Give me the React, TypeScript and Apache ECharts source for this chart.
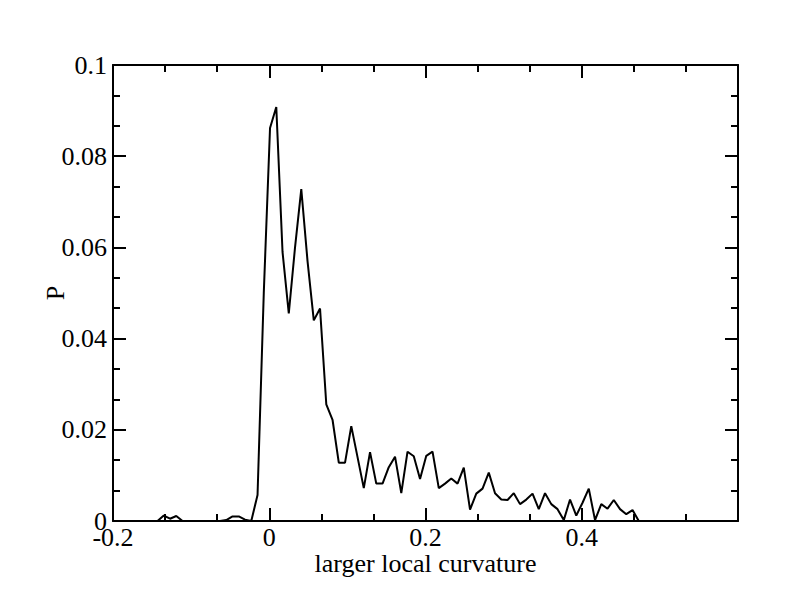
import React, { useEffect, useRef } from "react";
import * as echarts from "echarts";

const xValues = [
  -0.143, -0.135, -0.127, -0.119, -0.111, -0.103, -0.095, -0.087, -0.079, -0.071, -0.063,
  -0.055, -0.047, -0.039, -0.031, -0.023, -0.015, -0.007, 0.001, 0.009, 0.017, 0.025,
  0.033, 0.041, 0.049, 0.057, 0.065, 0.073, 0.081, 0.089, 0.097, 0.105, 0.113, 0.121,
  0.129, 0.137, 0.145, 0.153, 0.161, 0.169, 0.177, 0.185, 0.193, 0.201, 0.209, 0.217,
  0.225, 0.233, 0.241, 0.249, 0.257, 0.265, 0.273, 0.281, 0.289, 0.297, 0.305, 0.313,
  0.321, 0.329, 0.337, 0.345, 0.353, 0.361, 0.369, 0.377, 0.385, 0.393, 0.401, 0.409,
  0.417, 0.425, 0.433, 0.441, 0.449, 0.457, 0.465, 0.473,
];
const pValues = [
  0, 0.0012, 0.0005, 0.0011, 0, 0, 0, 0, 0, 0, 0,
  0.0002, 0.001, 0.001, 0.0003, 0, 0.0057, 0.05, 0.0862, 0.0908, 0.059, 0.0455,
  0.06, 0.0728, 0.057, 0.044, 0.0466, 0.0256, 0.0222, 0.0128, 0.0128, 0.0208, 0.014, 0.0072,
  0.0151, 0.0082, 0.0082, 0.0118, 0.0141, 0.0061, 0.0152, 0.0142, 0.0092, 0.0143, 0.0152, 0.0072,
  0.0082, 0.0093, 0.0082, 0.0117, 0.0025, 0.006, 0.0071, 0.0106, 0.0061, 0.0047, 0.0046, 0.0061,
  0.0037, 0.0047, 0.006, 0.0026, 0.0061, 0.0037, 0.0026, 0.0002, 0.0047, 0.0012, 0.004, 0.0071,
  0.0002, 0.0037, 0.0027, 0.0046, 0.0026, 0.0015, 0.0024, 0,
];

const xMin = -0.2;
const xMax = 0.6;
const xStep = 0.2;
const yMin = 0;
const yMax = 0.1;
const yStep = 0.02;
const xTitle = "larger local curvature";
const yTitle = "P";

const FONT = "'Liberation Serif', 'DejaVu Serif', serif";

export default function App() {
  const ref = useRef<HTMLDivElement>(null);
  useEffect(() => {
    if (!ref.current) return;
    const chart = echarts.init(ref.current, undefined, { renderer: "svg" });
    const lineStyle = { color: "#000", width: 2 };
    const tickIn = { show: true, inside: true, length: 13, lineStyle: { color: "#000", width: 2 } };
    const minorIn = { show: true, splitNumber: 3, length: 7, lineStyle: { color: "#000", width: 2 } };
    const fmt = (v: number) => {
      const r = Math.round(v * 1000) / 1000;
      return String(r);
    };
    chart.setOption({
      animation: false,
      backgroundColor: "#fff",
      grid: { left: 113, right: 54, top: 65, bottom: 91, containLabel: false },
      xAxis: [
        {
          type: "value",
          min: xMin,
          max: xMax,
          interval: xStep,
          position: "bottom",
          name: xTitle,
          nameLocation: "middle",
          nameGap: 29,
          nameMoveOverlap: false,
          nameTextStyle: { fontFamily: FONT, fontSize: 26, color: "#000" },
          axisLine: { show: true, onZero: false, lineStyle },
          axisTick: tickIn,
          minorTick: minorIn,
          splitLine: { show: false },
          axisLabel: {
            fontFamily: FONT,
            fontSize: 26,
            color: "#000",
            margin: 3,
            formatter: (v: number) => (Math.abs(v - xMax) < 1e-9 ? "" : fmt(v)),
            showMaxLabel: false,
          },
        },
        {
          type: "value",
          min: xMin,
          max: xMax,
          interval: xStep,
          position: "top",
          axisLine: { show: true, onZero: false, lineStyle },
          axisTick: tickIn,
          minorTick: minorIn,
          splitLine: { show: false },
          axisLabel: { show: false },
        },
      ],
      yAxis: [
        {
          type: "value",
          min: yMin,
          max: yMax,
          interval: yStep,
          position: "left",
          name: yTitle,
          nameLocation: "middle",
          nameGap: 45,
          nameMoveOverlap: false,
          nameTextStyle: { fontFamily: FONT, fontSize: 26, color: "#000" },
          axisLine: { show: true, onZero: false, lineStyle },
          axisTick: tickIn,
          minorTick: minorIn,
          splitLine: { show: false },
          axisLabel: {
            fontFamily: FONT,
            fontSize: 26,
            color: "#000",
            margin: 6,
            formatter: (v: number) => fmt(v),
          },
        },
        {
          type: "value",
          min: yMin,
          max: yMax,
          interval: yStep,
          position: "right",
          axisLine: { show: true, onZero: false, lineStyle },
          axisTick: tickIn,
          minorTick: minorIn,
          splitLine: { show: false },
          axisLabel: { show: false },
        },
      ],
      series: [
        {
          type: "line",
          xAxisIndex: 0,
          yAxisIndex: 0,
          data: xValues.map((x, i) => [x, pValues[i]]),
          showSymbol: false,
          symbol: "none",
          lineStyle: { color: "#000", width: 2 },
          z: 3,
        },
      ],
    });
    return () => chart.dispose();
  }, []);
  return (
    <div
      ref={ref}
      style={{ position: "fixed", left: 0, top: 0, width: 792, height: 612, background: "#fff" }}
    />
  );
}
